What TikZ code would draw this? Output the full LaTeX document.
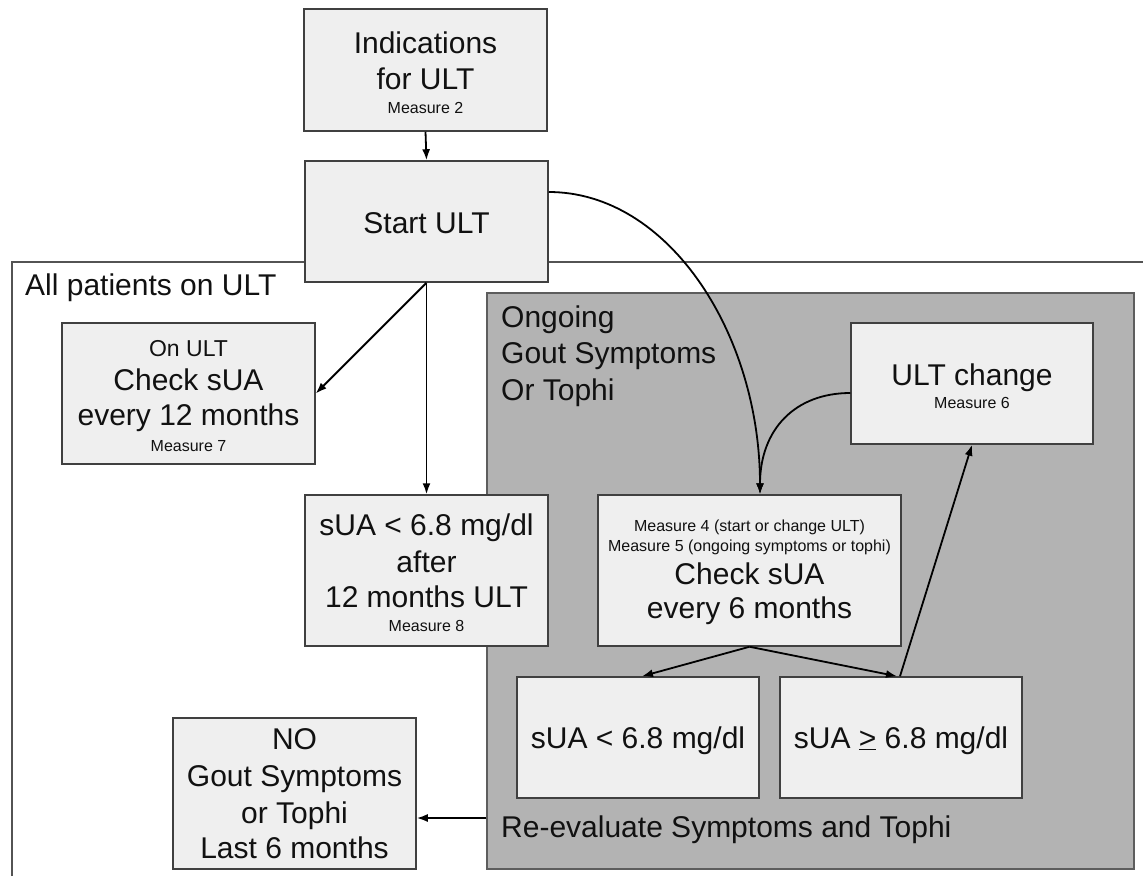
\documentclass[tikz,border=0pt]{standalone}
\usepackage{fontspec}
\setmainfont{Liberation Sans}
\usetikzlibrary{arrows.meta,fit,calc}
\definecolor{boxfill}{HTML}{EFEFEF}
\definecolor{grayfill}{HTML}{B3B3B3}
\definecolor{edge}{HTML}{404040}
\definecolor{txt}{HTML}{111111}
\begin{document}
\begin{tikzpicture}[x=1pt,y=-1pt,
  box/.style={draw=edge,fill=boxfill,line width=1.5pt,inner sep=0pt},
  region/.style={draw=edge!85,fill=grayfill,line width=1.5pt,inner sep=0pt},
  big/.style={inner sep=0pt,anchor=base,text=txt,font=\fontsize{30}{36}\selectfont},
  bigl/.style={big,anchor=base west},
  med/.style={inner sep=0pt,anchor=base,text=txt,font=\fontsize{23}{28}\selectfont},
  small/.style={inner sep=0pt,anchor=base,text=txt,font=\fontsize{16}{19}\selectfont},
  arr/.style={-{Latex[length=11pt,width=8pt]},line width=1.8pt},
  framel/.style={draw=edge!90,line width=1.2pt}]
\useasboundingbox (0,0) rectangle (1143,876);
% outer frame
\coordinate (fbl) at (12,876);
\coordinate (ftl) at (12,262);
\coordinate (ftr) at (1143,262);
\draw[framel] (fbl) -- (ftl) -- (ftr);
\node[bigl] (allp) at (25,295) {All patients on ULT};
% grey region
\node[region, fit={(487,293) (1134,869)}] (gray) {};
\node[bigl] (og1) at (501,327) {Ongoing};
\node[bigl] (og2) at (501,363) {Gout Symptoms};
\node[bigl] (og3) at (501,400) {Or Tophi};
\node[bigl] (reev) at (501,837) {Re-evaluate Symptoms and Tophi};
% boxes
\node[box, fit={(304,9) (547,131)}] (ind) {};
\node[big] (ind1) at (425.5,53) {Indications};
\node[big] (ind2) at (425.5,89) {for ULT};
\node[small] (ind3) at (425.5,113) {Measure 2};

\node[box, fit={(305,161) (548,282)}] (start) {};
\node[big] (start1) at (426.5,233) {Start ULT};

\node[box, fit={(62,323) (315,464)}] (onult) {};
\node[med] (on1) at (188.5,356) {On ULT};
\node[big] (on2) at (188.5,390) {Check sUA};
\node[big] (on3) at (188.5,425) {every 12 months};
\node[small] (on4) at (188.5,451) {Measure 7};

\node[box, fit={(305,495) (548,646)}] (after) {};
\node[big] (af1) at (426.5,535) {sUA < 6.8 mg/dl};
\node[big] (af2) at (426.5,572) {after};
\node[big] (af3) at (426.5,607) {12 months ULT};
\node[small] (af4) at (426.5,631) {Measure 8};

\node[box, fit={(851,323) (1093,444)}] (ultc) {};
\node[big] (uc1) at (972,385) {ULT change};
\node[small] (uc2) at (972,408) {Measure 6};

\node[box, fit={(598,495) (901,646)}] (check) {};
\node[small] (ch1) at (749.5,531) {Measure 4 (start or change ULT)};
\node[small] (ch2) at (749.5,551) {Measure 5 (ongoing symptoms or tophi)};
\node[big] (ch3) at (749.5,584) {Check sUA};
\node[big] (ch4) at (749.5,618) {every 6 months};

\node[box, fit={(517,677) (759,798)}] (low) {};
\node[big] (lo1) at (638,748) {sUA < 6.8 mg/dl};

\node[box, fit={(780,677) (1022,798)}] (high) {};
\node[big] (hi1) at (901,748) {sUA \underline{>} 6.8 mg/dl};

\node[box, fit={(173,718) (416,869)}] (no) {};
\node[big] (no1) at (294.5,749) {NO};
\node[big] (no2) at (294.5,786) {Gout Symptoms};
\node[big] (no3) at (294.5,823) {or Tophi};
\node[big] (no4) at (294.5,858) {Last 6 months};

% connectors
\draw[arr] (ind.south) -- (start.north);
\draw[arr] (start.south) -- (after.north);
\draw[arr] (start.south) -- (onult.east);
\draw[arr] ([yshift=29.5pt]start.east) .. controls +(120,0) and +(0,-160) .. ([xshift=10.5pt]check.north);
\draw[arr] ([yshift=-9.5pt]ultc.west) .. controls +(-55,0) and +(0,-65) .. ([xshift=10.5pt]check.north);
\draw[arr] (check.south) -- ([xshift=4pt]low.north);
\draw[arr] (check.south) -- ([xshift=-4pt]high.north);
\draw[arr] ([xshift=-1pt]high.north) -- (ultc.south);
\coordinate (noin) at ([yshift=-24.5pt]no.east);
\draw[arr] (gray.west |- noin) -- (noin);
\end{tikzpicture}
\end{document}
